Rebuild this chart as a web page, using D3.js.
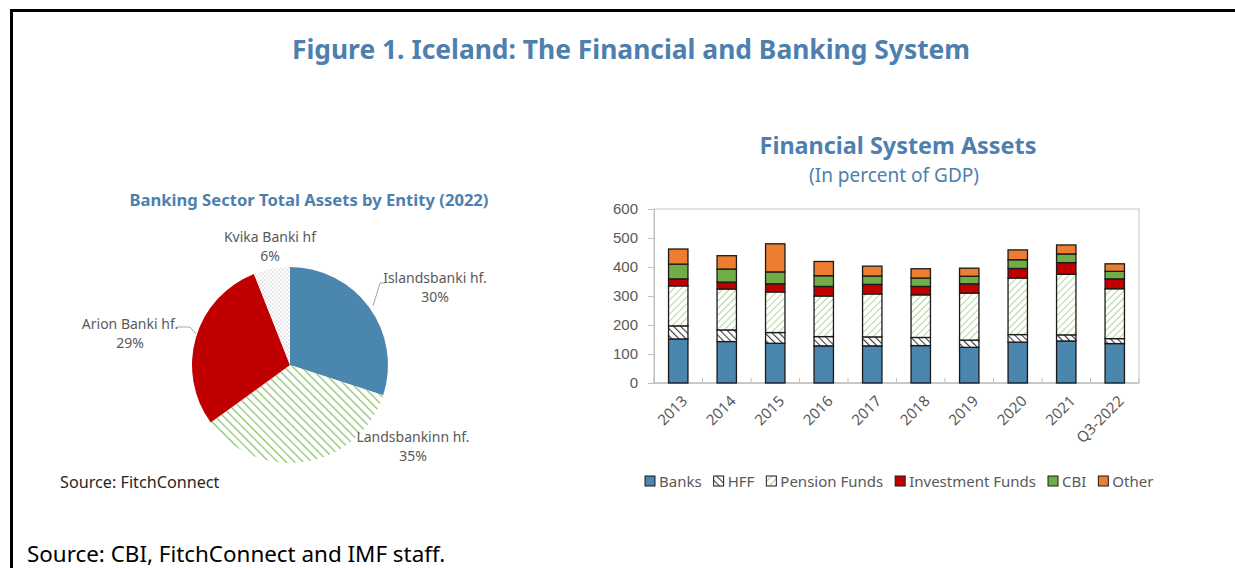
<!DOCTYPE html>
<html>
<head>
<meta charset="utf-8">
<script src="https://cdn.jsdelivr.net/npm/d3@7"></script>
<style>
  body { margin: 0; background: #fff; }
  svg { display: block; font-family: "Noto Sans", "Open Sans", sans-serif; }
</style>
</head>
<body>
<svg id="chart" width="1235" height="568"></svg>
<script>
// Pie data: banking sector assets by entity, 2022 (percent)
const pieNames = ["Islandsbanki hf.", "Landsbankinn hf.", "Arion Banki hf.", "Kvika Banki hf"];
const pieValues = [30, 35, 29, 6];

// Stacked bars: financial system assets, percent of GDP
const years = ["2013", "2014", "2015", "2016", "2017", "2018", "2019", "2020", "2021", "Q3-2022"];
const seriesNames = ["Banks", "HFF", "Pension Funds", "Investment Funds", "CBI", "Other"];
const banks = [152, 143, 137, 128, 128, 129, 123, 141, 145, 136];
const hff = [45, 40, 37, 32, 31, 28, 25, 26, 21, 17];
const pension = [138, 141, 140, 140, 148, 147, 162, 195, 209, 172];
const invFunds = [24, 24, 28, 33, 33, 29, 32, 33, 40, 34];
const cbi = [51, 45, 41, 37, 29, 29, 26, 30, 30, 26];
const other = [52, 46, 97, 49, 34, 32, 28, 34, 31, 26];
const yTicks = [0, 100, 200, 300, 400, 500, 600];

const blue = "#4a86ae", red = "#c00000", green = "#70ad47", orange = "#ed7d31";
const titleBlue = "#4d80ae", grayText = "#595959";

const svg = d3.select("#chart");

// Patterns
const defs = svg.append("defs");
function stripes(id, color, bg, width, size, angle) {
    const p = defs.append("pattern").attr("id", id)
        .attr("patternUnits", "userSpaceOnUse")
        .attr("width", size).attr("height", size)
        .attr("patternTransform", `rotate(${angle})`);
    p.append("rect").attr("width", size).attr("height", size).attr("fill", bg);
    p.append("line").attr("x1", 0).attr("y1", 0).attr("x2", 0).attr("y2", size)
        .attr("stroke", color).attr("stroke-width", width);
}
stripes("pieGreen", "#8cc06a", "#fff", 2.5, 6, -45);
stripes("hffHatch", "#3a3a3a", "#fff", 2.2, 5, -45);
stripes("pensionHatch", "#a9d18e", "#fff", 1.8, 5, 45);
const dots = defs.append("pattern").attr("id", "pieDots")
    .attr("patternUnits", "userSpaceOnUse").attr("width", 4).attr("height", 4);
dots.append("rect").attr("width", 4).attr("height", 4).attr("fill", "#fff");
dots.append("circle").attr("cx", 1).attr("cy", 1).attr("r", 0.6).attr("fill", "#9a9a9a");
dots.append("circle").attr("cx", 3).attr("cy", 3).attr("r", 0.6).attr("fill", "#9a9a9a");

// Frame (top and left rule)
svg.append("path").attr("d", "M11.5,568 V10.5 H1235")
    .attr("fill", "none").attr("stroke", "#000").attr("stroke-width", 3);

// Main title
svg.append("text").attr("x", 631).attr("y", 59).attr("text-anchor", "middle")
    .attr("font-size", 26.4).attr("font-weight", 700).attr("fill", titleBlue)
    .text("Figure 1. Iceland: The Financial and Banking System");

// ---------- Pie ----------
svg.append("text").attr("x", 309).attr("y", 206).attr("text-anchor", "middle")
    .attr("font-size", 16.6).attr("font-weight", 700).attr("fill", titleBlue)
    .text("Banking Sector Total Assets by Entity (2022)");

const pieFills = [blue, "url(#pieGreen)", red, "url(#pieDots)"];
const cx = 290, cy = 365, R = 98;
const pieGen = d3.pie().sort(null).value(d => d)(pieValues);
const arc = d3.arc().innerRadius(0).outerRadius(R);
const pieG = svg.append("g").attr("transform", `translate(${cx},${cy})`);
pieG.selectAll("path").data(pieGen).join("path")
    .attr("d", arc).attr("fill", (d, i) => pieFills[i]);

// label placement relative to pie centre
const labelPos = [[145, -82], [123, 77], [-160, -36], [-20, -123]];
const labelG = svg.append("g").attr("font-size", 14).attr("fill", grayText);
pieGen.forEach((d, i) => {
    const t = labelG.append("text").attr("text-anchor", "middle")
        .attr("transform", `translate(${cx + labelPos[i][0]},${cy + labelPos[i][1]})`);
    t.append("tspan").attr("x", 0).attr("dy", 0).text(pieNames[i]);
    t.append("tspan").attr("x", 0).attr("dy", 19).text(d3.format(".0f")(d.data) + "%");
});
// leader lines
const leader = svg.append("g").attr("fill", "none").attr("stroke", "#a6a6a6").attr("stroke-width", 1);
leader.append("path").attr("d", `M${cx + 95},${cy - 82} H${cx + 90} L${cx + 83},${cy - 59}`);
leader.append("path").attr("d", `M${cx - 113},${cy - 38} H${cx - 100} L${cx - 94},${cy - 31}`);

svg.append("text").attr("x", 60).attr("y", 488).attr("font-size", 16.2).attr("fill", "#262626")
    .text("Source: FitchConnect");

// ---------- Stacked bars ----------
svg.append("text").attr("x", 898).attr("y", 154).attr("text-anchor", "middle")
    .attr("font-size", 23.4).attr("font-weight", 700).attr("fill", titleBlue)
    .text("Financial System Assets");
svg.append("text").attr("x", 894).attr("y", 182).attr("text-anchor", "middle")
    .attr("font-size", 19).attr("fill", titleBlue)
    .text("(In percent of GDP)");

const plotL = 654, plotR = 1139, plotT = 209, plotB = 383;
const x = d3.scaleBand().domain(years).range([plotL, plotR]).paddingInner(0.6).paddingOuter(0.3);
const y = d3.scaleLinear().domain([0, 600]).range([plotB, plotT]);

const table = years.map((yr, i) => ({
    year: yr, Banks: banks[i], HFF: hff[i], "Pension Funds": pension[i],
    "Investment Funds": invFunds[i], CBI: cbi[i], Other: other[i]
}));
const stacked = d3.stack().keys(seriesNames)(table);
const barFills = [blue, "url(#hffHatch)", "url(#pensionHatch)", red, green, orange];

// plot frame
svg.append("rect").attr("x", plotL).attr("y", plotT).attr("width", plotR - plotL).attr("height", plotB - plotT)
    .attr("fill", "none").attr("stroke", "#d9d9d9").attr("stroke-width", 1.5);

// y axis
const yAxis = svg.append("g").attr("transform", `translate(${plotL},0)`)
    .call(d3.axisLeft(y).tickValues(yTicks).tickSize(6).tickPadding(10));
yAxis.select(".domain").attr("stroke", "#bfbfbf");
yAxis.selectAll(".tick line").attr("stroke", "#bfbfbf");
yAxis.selectAll("text").attr("font-size", 15).attr("fill", grayText).attr("font-family", null);

// x baseline and category separators
const sepX = d3.range(years.length + 1).map(i => plotL + i * (plotR - plotL) / years.length);
svg.append("line").attr("x1", plotL).attr("x2", plotR).attr("y1", plotB).attr("y2", plotB)
    .attr("stroke", "#bfbfbf").attr("stroke-width", 1.5);
svg.append("g").selectAll("line").data(sepX).join("line")
    .attr("x1", d => d).attr("x2", d => d).attr("y1", plotB).attr("y2", plotB - 5)
    .attr("stroke", "#bfbfbf");

// bars
svg.append("g").selectAll("g").data(stacked).join("g")
    .attr("fill", (d, i) => barFills[i])
    .selectAll("rect").data(d => d).join("rect")
    .attr("x", d => x(d.data.year)).attr("width", x.bandwidth())
    .attr("y", d => y(d[1])).attr("height", d => y(d[0]) - y(d[1]))
    .attr("stroke", "#1a1a1a").attr("stroke-width", 1.3);

// x labels
svg.append("g").selectAll("text").data(years).join("text")
    .attr("transform", d => `translate(${x(d) + x.bandwidth() / 2 + 10},${plotB + 19}) rotate(-45)`)
    .attr("text-anchor", "end").attr("font-size", 15).attr("fill", grayText)
    .text(d => d);

// legend
const legend = svg.append("g").attr("transform", "translate(645,481)");
let lx = 0;
seriesNames.forEach((name, i) => {
    const g = legend.append("g").attr("transform", `translate(${lx},0)`);
    g.append("rect").attr("x", 0).attr("y", -5).attr("width", 10).attr("height", 10)
        .attr("fill", barFills[i]).attr("stroke", "#1a1a1a").attr("stroke-width", 1);
    const t = g.append("text").attr("x", 14).attr("y", 5.5).attr("font-size", 15).attr("fill", grayText).text(name);
    lx += 14 + t.node().getComputedTextLength() + 12;
});

svg.append("text").attr("x", 27).attr("y", 562).attr("font-size", 22.4).attr("fill", "#000")
    .text("Source: CBI, FitchConnect and IMF staff.");
</script>
</body>
</html>
